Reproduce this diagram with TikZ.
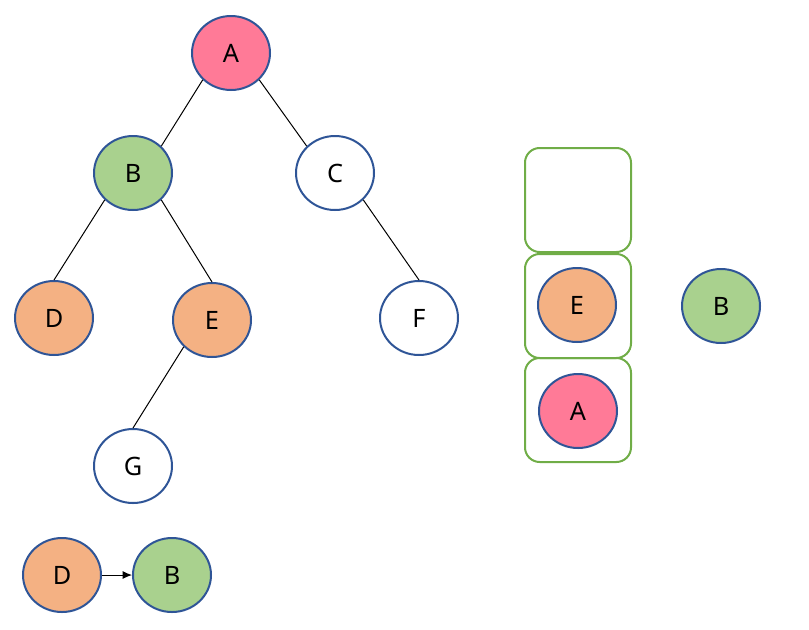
\documentclass[tikz,border=0pt]{standalone}
\usepackage{fontspec}
\setmainfont{Noto Sans}
\usetikzlibrary{shapes.geometric,arrows.meta}

\definecolor{bordo}{HTML}{2F5597}
\definecolor{rosa}{HTML}{FF7A97}
\definecolor{arancio}{HTML}{F4B183}
\definecolor{verde}{HTML}{A9D18E}
\definecolor{pila}{HTML}{70AD47}

\begin{document}
\begin{tikzpicture}[x=0.75pt, y=-0.75pt,
    nodo/.style={ellipse, draw=bordo, line width=1.5pt, fill=white,
        minimum width=58.5pt, minimum height=55.5pt, inner sep=0pt,
        font=\fontsize{19}{23}\selectfont},
    cella/.style={draw=pila, line width=1.5pt, rounded corners=11pt,
        minimum width=79.5pt, minimum height=78pt, inner sep=0pt},
    ramo/.style={line width=0.75pt}]
    \useasboundingbox (0,0) rectangle (809,629);

    % Albero binario
    \node[nodo, fill=rosa] (A) at (231,53) {A};
    \node[nodo, fill=verde] (B) at (133,173) {B};
    \node[nodo] (C) at (335,173) {C};
    \node[nodo, fill=arancio] (D) at (54,318) {D};
    \node[nodo, fill=arancio] (E) at (212,320) {E};
    \node[nodo] (F) at (419,318) {F};
    \node[nodo] (G) at (133,466) {G};

    % Rami
    \draw[ramo] (A.south west) -- (B.north east);
    \draw[ramo] (A.south east) -- (C.north west);
    \draw[ramo] (B.south west) -- (D.north);
    \draw[ramo] (B.south east) -- (E.north);
    \draw[ramo] (C.south east) -- (F.north);
    \draw[ramo] (E.south west) -- (G.north);

    % Pila
    \node[cella] (p3) at (578,200) {};
    \node[cella] (p2) at (578,306) {};
    \node[cella] (p1) at (578,410) {};
    \node[nodo, fill=arancio] (pE) at (577,305) {E};
    \node[nodo, fill=rosa] (pA) at (578,411) {A};

    % Nodo corrente
    \node[nodo, fill=verde] (cB) at (721,306) {B};

    % Lista visitati
    \node[nodo, fill=arancio] (lD) at (62,575) {D};
    \node[nodo, fill=verde] (lB) at (172,575) {B};
    \draw[ramo, -{Latex[length=7pt,width=6pt]}] (lD.east) -- (lB.west);
\end{tikzpicture}
\end{document}
